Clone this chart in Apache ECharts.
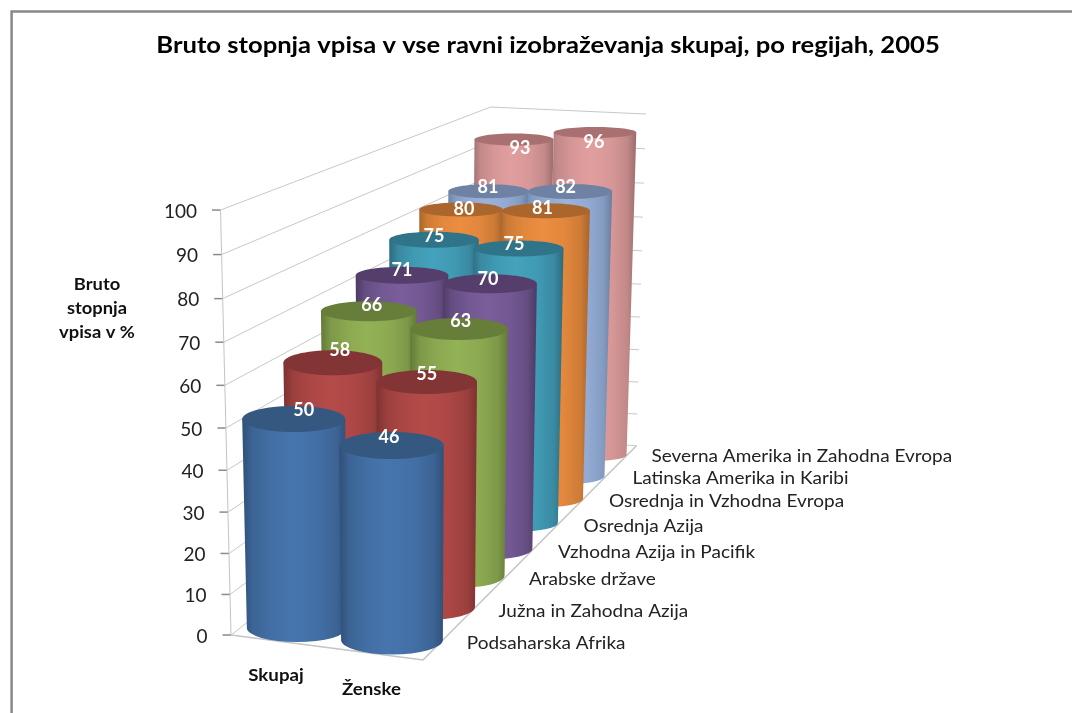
<!DOCTYPE html>
<html>
<head>
<meta charset="utf-8">
<style>
  html, body { margin: 0; padding: 0; background: #fff; }
  #chart { width: 1072px; height: 713px; }
</style>
<script src="https://cdn.jsdelivr.net/npm/echarts@6/dist/echarts.min.js"></script>
</head>
<body>
<div id="chart"></div>
<script>
const titleText = 'Bruto stopnja vpisa v vse ravni izobraževanja skupaj, po regijah, 2005'
const yNameLines = ['Bruto', 'stopnja', 'vpisa v %']
const groups = ['Skupaj', 'Ženske']
const regions = [
  'Podsaharska Afrika', 'Južna in Zahodna Azija', 'Arabske države', 'Vzhodna Azija in Pacifik',
  'Osrednja Azija', 'Osrednja in Vzhodna Evropa', 'Latinska Amerika in Karibi', 'Severna Amerika in Zahodna Evropa'
]
const skupaj = [50, 58, 66, 71, 75, 80, 81, 93]
const zenske = [46, 55, 63, 70, 75, 81, 82, 96]
const yTicks = [0, 10, 20, 30, 40, 50, 60, 70, 80, 90, 100]

// barve po regijah: sredina, rob, pokrov
const mids = ['#4675ad', '#b44b49', '#93b155', '#7a5d9b', '#44a2bc', '#ec8d40', '#9ab2dc', '#e29e9e']
const edges = ['#2f5078', '#7d3231', '#637a37', '#4c3a63', '#2c6b7f', '#a8642a', '#6a7e9f', '#9b6c6c']
const caps = ['#34587f', '#823534', '#677e3a', '#553e6b', '#2f7488', '#ab662d', '#6f82a3', '#a87071']

// perspektiva: vsak valj ima svoj grid (stolpec, vrstica)
const cellCx = [[293.7, 332.8, 368.8, 402, 434, 461, 488.5, 514], [391.5, 426.7, 459, 490, 518.5, 546, 570, 595]]
const cellW = [[103, 98.8, 95.7, 92.6, 89.5, 83.4, 80.3, 79], [104.5, 100.6, 97.5, 93.7, 90, 87.8, 84.3, 82.6]]
const cellBase = [[628, 596, 566, 540, 515, 492, 470, 450], [640, 607, 576, 549, 523, 499, 476, 455]]
const cellUnit = [[4.18, 4.02, 3.86, 3.73, 3.67, 3.53, 3.44, 3.34], [4.23, 4.09, 3.92, 3.79, 3.66, 3.56, 3.47, 3.36]]
const capRy = [[13, 12.5, 10, 8.5, 8, 7, 7, 6], [13.5, 12, 11, 9.5, 8, 7.5, 7.5, 5.5]]
const labelDx = [[10, 7, 3, 0, 0, 3, -0.5, 6], [-2.5, 0, 1.7, -2, -4.5, -3.6, -4.4, -1]]
const labelDy = [[-9, -13, -6, -5, -4, -0.5, -4.3, 9], [-8.5, -8.3, -8.3, -4.5, -4.5, -2.5, -3.8, 9.7]]

const regionX = [466.8, 498.6, 529, 558, 583.6, 609, 632.5, 651.4]
const regionY = [642.7, 610.7, 579, 551.7, 526, 501, 478, 456]

const FONT = 'Lato, "Noto Sans", sans-serif'
const VANISH_X = 410
const VANISH_H = 7500

const chart = echarts.init(document.getElementById('chart'))

const grids = []
const xAxes = []
const yAxes = []
const series = []

const addGrid = (left, top, width, height) => {
  const idx = grids.length
  grids.push({ left, top, width, height, containLabel: false })
  xAxes.push({ type: 'category', gridIndex: idx, show: false, data: [''] })
  yAxes.push({ type: 'value', gridIndex: idx, show: false, min: 0, max: 100 })
  return idx
}

// stena: skala 0-100 na sprednjem robu, ostalo gre v kote
const wallGrid = addGrid(220.5, 210, 10.5, 425)
const warp = f => {
  const v = f * 100
  return 4.035 * v / (1 - 0.000505 * v) / 425
}
const lerp = (a, b, t) => a + (b - a) * t

series.push({
  type: 'custom',
  name: 'stena',
  xAxisIndex: wallGrid,
  yAxisIndex: wallGrid,
  z: 1,
  silent: true,
  clip: false,
  data: yTicks.map(v => [0, v]),
  renderItem: (params, api) => {
    const v = api.value(1)
    const y0 = api.coord([0, 0])[1]
    const y1 = api.coord([0, 100])[1]
    const f = warp((y0 - api.coord([0, v])[1]) / (y0 - y1))
    const fx = lerp(231, 220.5, f)
    const fy = lerp(y0, y1, f)
    const bx = lerp(487, 490.7, f)
    const by = lerp(437, 107, f)
    const rx = lerp(636.4, 646, f)
    const ry = lerp(445.7, 114, f)
    const lineStyle = { stroke: '#c8c8c8', lineWidth: 1, fill: null }
    return {
      type: 'group',
      children: [
        { type: 'polyline', shape: { points: [[fx, fy], [bx, by], [rx, ry]] }, style: lineStyle },
        { type: 'line', shape: { x1: fx - 8.5, y1: fy, x2: fx, y2: fy }, style: { stroke: '#8a8a8a', lineWidth: 1.5 } },
        {
          type: 'text',
          style: {
            text: String(v), x: fx - 23.5, y: fy + 1.5, fill: '#222',
            font: '19px ' + FONT, align: 'right', verticalAlign: 'middle'
          }
        }
      ]
    }
  }
})

// rob tal in navpicni rob stene
series.push({
  type: 'custom',
  name: 'tla',
  xAxisIndex: wallGrid,
  yAxisIndex: wallGrid,
  z: 2,
  silent: true,
  clip: false,
  data: [[0, 0]],
  renderItem: (params, api) => {
    const p0 = api.coord([0, 0])
    const p1 = api.coord([0, 100])
    return {
      type: 'group',
      children: [
        { type: 'line', shape: { x1: 231, y1: p0[1], x2: 220.5, y2: p1[1] }, style: { stroke: '#c4c4c4', lineWidth: 1 } },
        {
          type: 'polyline',
          shape: { points: [[231, p0[1]], [423, 660], [636.4, 445.7]] },
          style: { stroke: '#c4c4c4', lineWidth: 1.5, fill: null }
        }
      ]
    }
  }
})

const renderCylinder = (col, row) => (params, api) => {
  const val = api.value(1)
  const top = api.coord([0, val])
  const bottom = api.coord([0, 0])
  const w = api.size([1, 0])[0]
  const h = bottom[1] - top[1]
  const shrink = 1 - h / VANISH_H
  const xl = top[0] - w / 2
  const xr = top[0] + w / 2
  const bl = VANISH_X + (xl - VANISH_X) * shrink
  const br = VANISH_X + (xr - VANISH_X) * shrink
  const ry = capRy[col][row]
  const ryB = ry + 1
  const rxB = (br - bl) / 2
  const pathData = `M${xl} ${top[1]} L${bl} ${bottom[1]} A${rxB} ${ryB} 0 0 0 ${br} ${bottom[1]} L${xr} ${top[1]} Z`
  const soft = echarts.color.lerp(0.55, [edges[row], mids[row]])
  const near = echarts.color.lerp(0.85, [edges[row], mids[row]])
  return {
    type: 'group',
    children: [
      {
        type: 'path',
        shape: { pathData },
        style: {
          fill: new echarts.graphic.LinearGradient(0, 0, 1, 0, [
            { offset: 0, color: edges[row] },
            { offset: 0.1, color: soft },
            { offset: 0.28, color: near },
            { offset: 0.48, color: mids[row] },
            { offset: 0.72, color: near },
            { offset: 0.9, color: soft },
            { offset: 1, color: edges[row] }
          ])
        }
      },
      {
        type: 'ellipse',
        shape: { cx: top[0], cy: top[1], rx: w / 2, ry },
        style: { fill: caps[row] }
      },
      {
        type: 'text',
        style: {
          text: String(val),
          x: top[0] + labelDx[col][row],
          y: top[1] + labelDy[col][row],
          fill: '#fff',
          font: 'bold 18px ' + FONT,
          align: 'center',
          verticalAlign: 'middle'
        }
      }
    ]
  }
}

// od zadaj naprej, levo pred desnim
for (let row = regions.length - 1; row >= 0; row--) {
  [skupaj, zenske].forEach((values, col) => {
    const unit = cellUnit[col][row]
    const idx = addGrid(
      cellCx[col][row] - cellW[col][row] / 2,
      cellBase[col][row] - 100 * unit,
      cellW[col][row],
      100 * unit
    )
    series.push({
      type: 'custom',
      name: regions[row] + ' - ' + groups[col],
      xAxisIndex: idx,
      yAxisIndex: idx,
      z: 10 + (regions.length - 1 - row) * 2 + col,
      silent: true,
      clip: false,
      data: [[0, values[row]]],
      renderItem: renderCylinder(col, row)
    })
  })
}

// besedilo v originalu je vodoravno raztegnjeno, zato scaleX
const textEl = (text, x, y, font, scaleX, extra) => ({
  type: 'text',
  x,
  y,
  scaleX,
  silent: true,
  style: Object.assign({ text, fill: '#111', font: font + ' ' + FONT, verticalAlign: 'middle' }, extra)
})

const graphicEls = [
  {
    type: 'polyline',
    silent: true,
    shape: { points: [[11.6, 713], [11.6, 11.4], [1072, 11.4]] },
    style: { stroke: '#888', lineWidth: 2.5, fill: null }
  },
  textEl(titleText, 548, 46, 'bold 22px', 1.164, { align: 'center', fill: '#000' }),
  textEl(groups[0], 276, 676, 'bold 17px', 1.1, { align: 'center' }),
  textEl(groups[1], 371.5, 690, 'bold 17px', 1.1, { align: 'center' })
]
yNameLines.forEach((line, i) => {
  graphicEls.push(textEl(line, 97, 285 + i * 24, 'bold 17px', 1.08, { align: 'center' }))
})
regions.forEach((name, i) => {
  graphicEls.push(textEl(name, regionX[i], regionY[i], '18px', 1.055, { align: 'left', fill: '#222' }))
})

chart.setOption({
  backgroundColor: '#fff',
  animation: false,
  grid: grids,
  xAxis: xAxes,
  yAxis: yAxes,
  series,
  graphic: { elements: graphicEls }
})
</script>
</body>
</html>
